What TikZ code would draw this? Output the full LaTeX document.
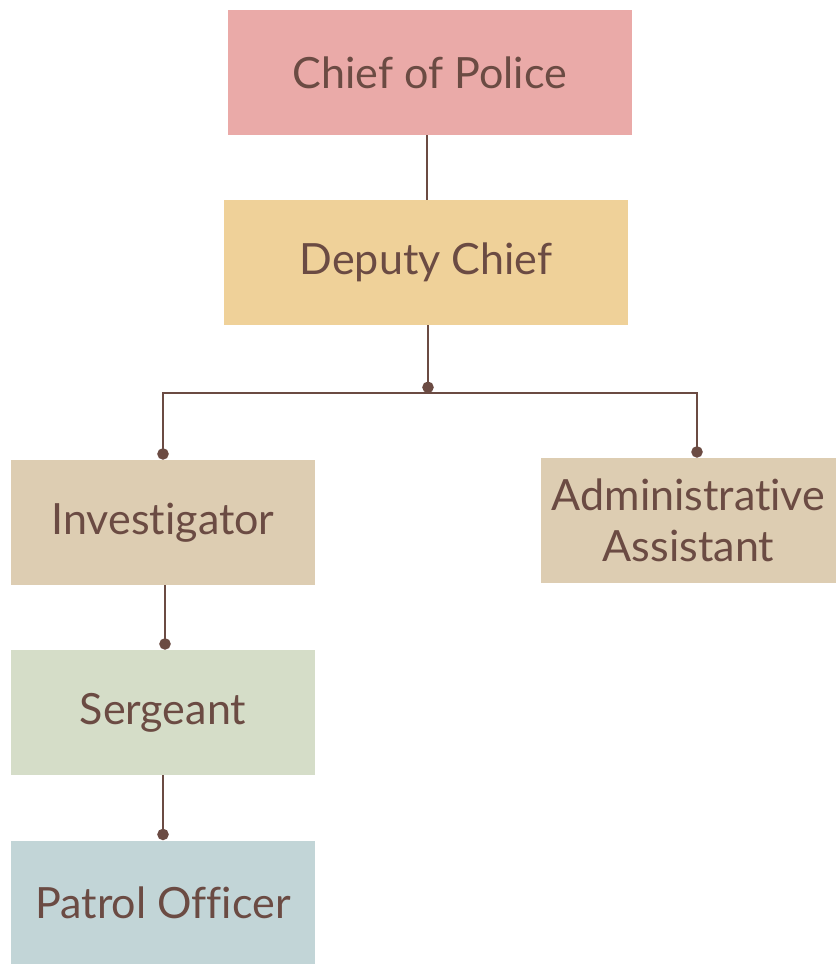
\documentclass[tikz,border=0pt]{standalone}
\usepackage{fontspec}
\setmainfont{Lato}[Ligatures=NoCommon]
\usetikzlibrary{arrows.meta}
\definecolor{ink}{HTML}{6B4B43}
\definecolor{chiefpink}{HTML}{EAAAA8}
\definecolor{deputyyellow}{HTML}{EFD199}
\definecolor{sandbeige}{HTML}{DDCDB2}
\definecolor{sagegreen}{HTML}{D5DDC8}
\definecolor{mistblue}{HTML}{C2D5D7}

\begin{document}
\begin{tikzpicture}[x=0.02cm, y=-0.02cm,
    rank/.style={minimum width=8.08cm, minimum height=2.5cm, inner sep=0pt,
        text=ink, align=center, font=\fontsize{24.5}{29}\selectfont},
    link/.style={draw=ink, line width=1.2pt, -{Circle[length=6.5pt]}},
    plain/.style={draw=ink, line width=1.2pt}]
\useasboundingbox (0,0) rectangle (836,964);
\node[rank, fill=chiefpink] (chief) at (430,72.5) {Chief of Police};
\node[rank, fill=deputyyellow] (deputy) at (426,262.5) {Deputy Chief};
\node[rank, fill=sandbeige, minimum width=6.08cm] (invest) at (163,522.5) {Investigator};
\node[rank, fill=sandbeige, minimum width=5.9cm] (admin) at (688.5,520.5) {Administrative\\Assistant};
\node[rank, fill=sagegreen, minimum width=6.08cm] (serg) at (163,712.5) {Sergeant};
\node[rank, fill=mistblue, minimum width=6.08cm] (patrol) at (163,903) {Patrol Officer};
\coordinate (split) at (428,393);
\draw[plain] (chief.south -| 427,0) -- (deputy.north -| 427,0);
\draw[link] (deputy.south -| split) -- (split);
\draw[link] (split) -| (invest.north);
\draw[link] (split) -| ([xshift=0.17cm]admin.north);
\draw[link] (invest.south -| 165,0) -- (serg.north -| 165,0);
\draw[link] (serg.south) -- (patrol.north);
\end{tikzpicture}
\end{document}
